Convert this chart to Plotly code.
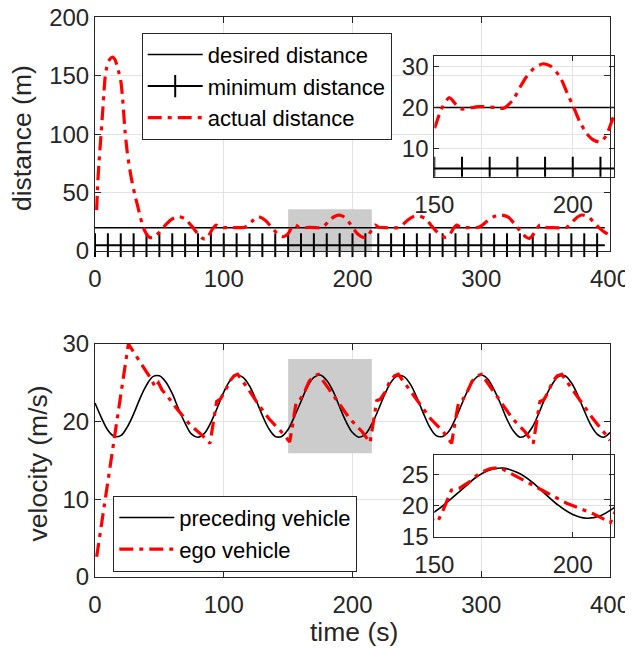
import plotly.graph_objects as go

FONT = "Liberation Sans, Arial, Helvetica, sans-serif"
AX = "#262626"
GRID = "#e3e3e3"

# ---------------- data: distance (top) ----------------
dist_t = [1.3, 2, 3, 4.7, 6, 7, 7.8, 9, 10.5, 12, 13.7, 15.5, 17, 18.5, 20, 21.5, 23.3, 25, 27, 29,
          31, 33, 35, 37, 39, 41, 43, 45, 47, 50, 55, 60, 65.5, 70, 75, 80, 83, 85.4, 88, 91,
          94, 97, 100, 110, 116, 119, 123, 127, 132, 137, 142, 146.3, 149.7, 152.4, 155.4, 158.5, 160, 166, 172, 175,
          178.4, 181, 183.3, 186, 189.3, 192, 195.4, 198, 200.2, 202.5, 205, 207.5, 209.9, 212, 214.7, 217.5, 220, 225, 235, 238,
          243, 247, 252, 257, 261, 265.4, 269, 272.6, 276, 278.5, 281, 284, 290, 297, 300, 305, 310, 316, 321, 326,
          331, 335, 337.3, 340, 343, 345.6, 348, 355, 366, 369, 373, 378, 383, 388, 392, 396, 400]
dist_actual = [35, 55, 74, 100, 120, 137, 148, 157, 162.5, 165, 166, 164, 159, 153, 146, 130, 103, 85, 70, 58,
               48, 39, 30, 22, 16.5, 13, 11.4, 11.5, 12.8, 16, 22.5, 27.5, 29.4, 27.5, 21.5, 14.5, 11.2, 10.2, 12.5, 18.5,
               22.2, 20.5, 20, 20, 20.2, 22, 26.5, 29.4, 26.5, 20.5, 14.5, 12.2, 14.4, 19.4, 22.4, 20.2, 19.6, 20.2, 20, 19.8,
               21.8, 25, 27.5, 29.6, 30.7, 30.1, 27.5, 23.5, 20.2, 16.5, 13.6, 12, 11.5, 13, 17.7, 22.2, 20.5, 20, 20, 21.5,
               26.5, 29.3, 30, 27.5, 22, 16.5, 13, 11.7, 15, 19.5, 22.2, 20.3, 20, 20.1, 21.5, 26, 29.5, 30.8, 29, 23,
               16, 11.8, 10.8, 13.5, 19, 22.2, 20.5, 20, 20.2, 22.5, 27.5, 30.8, 29.5, 24, 19.4, 16, 13.7]
desired_t = [0, 396]
desired_d = [20, 20]
min_t = [0, 10, 20, 30, 40, 50, 60, 70, 80, 90, 100, 110, 120, 130, 140, 150, 160, 170, 180, 190,
         200, 210, 220, 230, 240, 250, 260, 270, 280, 290, 300, 310, 320, 330, 340, 350, 360, 370, 380, 390]
min_d = [5] * len(min_t)
min_tail_t = [390, 396]
min_tail_d = [5, 5]

# ---------------- data: velocity (bottom) ----------------
prec_t = [0, 5, 10, 15, 20, 25, 30, 35, 40, 45, 50, 55, 60, 65, 70, 75, 80, 85, 90, 95,
          100, 105, 110, 115, 120, 125, 130, 135, 140, 145, 150, 155, 160, 165, 170, 175, 180, 185, 190, 195,
          200, 205, 210, 215, 220, 225, 230, 235, 240, 245, 250, 255, 260, 265, 270, 275, 280, 285, 290, 295,
          300, 305, 310, 315, 320, 325, 330, 335, 340, 345, 350, 355, 360, 365, 370, 375, 380, 385, 390, 395, 400]
prec_v = [22.4, 20.5, 18.9, 18.1, 18.2, 19.3, 21.0, 23.0, 24.7, 25.8, 25.9, 25.1, 23.6, 21.6, 19.8, 18.4, 18.0, 18.5, 19.9, 21.8,
          23.8, 25.3, 26.0, 25.7, 24.6, 22.8, 20.8, 19.1, 18.1, 18.1, 19.0, 20.7, 22.6, 24.5, 25.7, 26.0, 25.3, 23.9, 21.9, 20.0,
          18.6, 18.0, 18.4, 19.7, 21.5, 23.5, 25.1, 25.9, 25.8, 24.8, 23.1, 21.1, 19.3, 18.2, 18.1, 18.8, 20.4, 22.3, 24.2, 25.5,
          26.0, 25.5, 24.1, 22.3, 20.3, 18.8, 18.0, 18.3, 19.4, 21.2, 23.2, 24.8, 25.8, 25.9, 25.0, 23.4, 21.4, 19.6, 18.4, 18.0, 18.6]
ego_t = [1.3, 25.9, 44, 46.8, 49.3, 52, 55.7, 63.4, 73.8, 84.1,
         89.3, 91.3, 94.5, 97.3, 101, 104.6, 108, 110.8, 118.2, 127.8, 135, 144.7,
         151.2, 153.2, 156.2, 159.1, 162.7, 166.3, 170, 173.6, 180.9, 190.6, 197.8, 207.5,
         213.6, 215.6, 218.8, 221.6, 225.3, 229, 232.6, 235.6, 243, 253, 260.5, 270.5,
         277, 279, 282.5, 285.5, 289, 292.8, 296.6, 300.3, 307.5, 317, 324.2, 334,
         340.4, 342.4, 345.6, 348.5, 352, 355.5, 359, 362.5, 369.8, 379.5, 386.7, 396.4, 400]
ego_v = [2.6, 30.0, 25.4, 24.4, 25.0, 24.1, 23.4, 21.7, 19.6, 18.1,
         17.2, 19.3, 22.6, 22.9, 23.9, 25.2, 25.9, 26.1, 24.4, 22.0, 20.4, 18.7,
         17.4, 19.3, 22.5, 22.8, 23.8, 25.2, 25.9, 26.1, 24.4, 22.0, 20.4, 18.7,
         17.3, 19.3, 22.7, 22.9, 23.8, 25.2, 25.9, 26.1, 24.4, 22.0, 20.4, 18.7,
         17.2, 19.3, 22.6, 22.8, 23.8, 25.2, 25.9, 26.1, 24.4, 22.0, 20.4, 18.7,
         17.2, 19.3, 22.6, 22.8, 23.8, 25.2, 25.9, 26.1, 24.4, 22.0, 20.4, 18.4, 17.6]

# zoom window
zoom_t = [150, 215]

RED_DASH = "14px,6px,4px,6px"

fig = go.Figure()


def add_distance(xa, ya, legend, show, clip):
    fig.add_trace(go.Scatter(x=desired_t, y=desired_d, mode="lines", name="desired distance",
                             line=dict(color="black", width=1.5), xaxis=xa, yaxis=ya,
                             legend=legend, showlegend=show))
    fig.add_trace(go.Scatter(x=min_t, y=min_d, mode="lines+markers", name="minimum distance",
                             line=dict(color="black", width=2),
                             marker=dict(symbol="line-ns", size=17, color="black",
                                         line=dict(color="black", width=2)),
                             cliponaxis=clip, xaxis=xa, yaxis=ya, legend=legend, showlegend=show))
    fig.add_trace(go.Scatter(x=min_tail_t, y=min_tail_d, mode="lines", line=dict(color="black", width=2),
                             xaxis=xa, yaxis=ya, showlegend=False, hoverinfo="skip"))
    fig.add_trace(go.Scatter(x=dist_t, y=dist_actual, mode="lines", name="actual distance",
                             line=dict(color="#ff0000", width=3.2, dash=RED_DASH, shape="spline", smoothing=0.6),
                             xaxis=xa, yaxis=ya, legend=legend, showlegend=show))


def add_velocity(xa, ya, legend, show):
    fig.add_trace(go.Scatter(x=prec_t, y=prec_v, mode="lines", name="preceding vehicle",
                             line=dict(color="black", width=1.6, shape="spline", smoothing=1.0),
                             xaxis=xa, yaxis=ya, legend=legend, showlegend=show))
    fig.add_trace(go.Scatter(x=ego_t, y=ego_v, mode="lines", name="ego vehicle",
                             line=dict(color="#ff0000", width=3.2, dash=RED_DASH),
                             xaxis=xa, yaxis=ya, legend=legend, showlegend=show))


add_distance("x", "y", "legend", True, False)
add_velocity("x2", "y2", "legend2", True)
add_distance("x3", "y3", "legend", False, True)
add_velocity("x4", "y4", "legend2", False)


def axstyle(is_x, **kw):
    d = dict(showline=True, linecolor=AX, linewidth=1, mirror="ticks", ticks="inside",
             ticklen=6, tickcolor=AX, tickwidth=1, showgrid=True, gridcolor=GRID, gridwidth=1,
             zeroline=False, automargin=False, ticklabelstandoff=6 if is_x else 0,
             ticklabeloverflow="allow",
             tickfont=dict(family=FONT, size=24, color=AX))
    d.update(kw)
    return d


fig.update_layout(
    template="none",
    width=625, height=641,
    margin=dict(l=87, r=18, t=9, b=72, autoexpand=False),
    paper_bgcolor="white",
    plot_bgcolor="rgba(0,0,0,0)",
    showlegend=True,
    xaxis=axstyle(True, domain=[0, 0.99038], anchor="y", range=[0, 400], tickvals=[0, 100, 200, 300, 400]),
    yaxis=axstyle(False, domain=[0.58214, 0.99911], anchor="x", range=[0, 200], tickvals=[0, 50, 100, 150, 200]),
    xaxis2=axstyle(True, domain=[0, 0.99038], anchor="y2", range=[0, 400], tickvals=[0, 100, 200, 300, 400]),
    yaxis2=axstyle(False, domain=[0, 0.41607], anchor="x2", range=[0, 30], tickvals=[0, 10, 20, 30]),
    xaxis3=axstyle(True, domain=[0.6525, 0.99865], anchor="y3", range=zoom_t, tickvals=[150, 200], ticklen=5),
    yaxis3=axstyle(False, domain=[0.71482, 0.93036], anchor="x3", range=[3, 32.6], tickvals=[10, 20, 30], ticklen=5),
    xaxis4=axstyle(True, domain=[0.6525, 0.99865], anchor="y4", range=zoom_t, tickvals=[150, 200], ticklen=5),
    yaxis4=axstyle(False, domain=[0.07143, 0.21786], anchor="x4", range=[15, 28.1], tickvals=[15, 20, 25], ticklen=5),
    legend=dict(x=0.0898, y=0.97196, xanchor="left", yanchor="top", bgcolor="white",
                bordercolor=AX, borderwidth=1, itemwidth=55,
                font=dict(family=FONT, size=22, color="black")),
    legend2=dict(x=0.0352, y=0.14518, xanchor="left", yanchor="top", bgcolor="white",
                 bordercolor=AX, borderwidth=1, itemwidth=55,
                 font=dict(family=FONT, size=22, color="black")),
    shapes=[
        dict(type="rect", xref="x", yref="y", x0=zoom_t[0], x1=zoom_t[1], y0=0, y1=35.8,
             fillcolor="#cccccc", line=dict(width=0), layer="between"),
        dict(type="rect", xref="x2", yref="y2", x0=zoom_t[0], x1=zoom_t[1], y0=15.93, y1=28.07,
             fillcolor="#cccccc", line=dict(width=0), layer="between"),
    ],
    annotations=[
        dict(text="distance (m)", xref="paper", yref="paper", x=-0.1404, y=0.7839, textangle=-90,
             showarrow=False, xanchor="center", yanchor="middle", font=dict(family=FONT, size=26.5, color=AX)),
        dict(text="velocity (m/s)", xref="paper", yref="paper", x=-0.1106, y=0.2036, textangle=-90,
             showarrow=False, xanchor="center", yanchor="middle", font=dict(family=FONT, size=26.5, color=AX)),
        dict(text="time (s)", xref="paper", yref="paper", x=0.499, y=-0.0982,
             showarrow=False, xanchor="center", yanchor="middle", font=dict(family=FONT, size=26.5, color=AX)),
    ],
)

fig.write_html("out.html")
